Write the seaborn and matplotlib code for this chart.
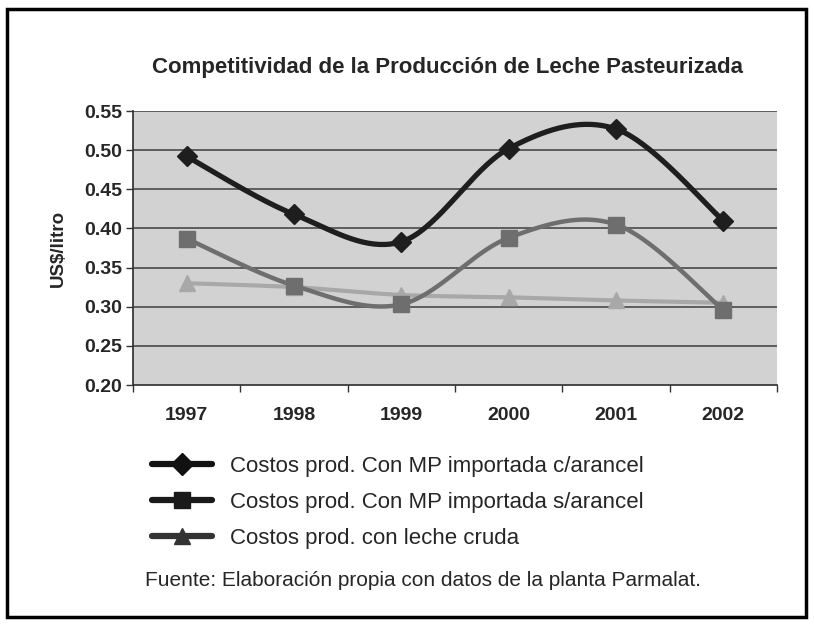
import matplotlib
matplotlib.use("Agg")
import matplotlib.pyplot as plt
from matplotlib.lines import Line2D
from matplotlib.patches import Rectangle
import seaborn as sns
import pandas as pd
import numpy as np

# Data
years = ["1997", "1998", "1999", "2000", "2001", "2002"]
con_arancel = [0.492, 0.418, 0.383, 0.502, 0.527, 0.410]
sin_arancel = [0.387, 0.327, 0.303, 0.388, 0.405, 0.296]
leche_cruda = [0.330, 0.325, 0.315, 0.312, 0.308, 0.305]
labels = [
    "Costos prod. Con MP importada c/arancel",
    "Costos prod. Con MP importada s/arancel",
    "Costos prod. con leche cruda",
]
yticks = [0.20, 0.25, 0.30, 0.35, 0.40, 0.45, 0.50, 0.55]

sns.set_theme(style="white")
plt.rcParams['font.family'] = ['Liberation Sans', 'DejaVu Sans']


def smooth(y, n=40):
    # Excel-style smoothed line (Catmull-Rom between the points)
    x = np.arange(len(y), dtype=float)
    y = np.asarray(y, dtype=float)
    px = np.concatenate([[x[0]], x, [x[-1]]])
    py = np.concatenate([[y[0]], y, [y[-1]]])
    xs, ys = [], []
    t = np.linspace(0, 1, n)
    for i in range(1, len(px) - 2):
        for arr, out in ((px, xs), (py, ys)):
            p0, p1, p2, p3 = arr[i - 1], arr[i], arr[i + 1], arr[i + 2]
            out.extend(0.5 * ((2 * p1) + (-p0 + p2) * t
                              + (2 * p0 - 5 * p1 + 4 * p2 - p3) * t ** 2
                              + (-p0 + 3 * p1 - 3 * p2 + p3) * t ** 3))
    return np.array(xs), np.array(ys)


series = [con_arancel, sin_arancel, leche_cruda]
colors = ["#1e1e1e", "#6e6e6e", "#a8a8a8"]
markers = ["D", "s", "^"]
msizes = [10, 11, 11]
lwidths = [3.8, 3.2, 3.0]
legend_colors = ["#111111", "#1a1a1a", "#333333"]

curves = []
for lab, vals in zip(labels, series):
    cx, cy = smooth(vals)
    curves.append(pd.DataFrame({"x": cx, "y": cy, "serie": lab}))
df_curve = pd.concat(curves, ignore_index=True)
df_pts = pd.DataFrame({
    "x": np.tile(np.arange(len(years)), len(series)),
    "y": np.concatenate(series),
    "serie": np.repeat(labels, len(years)),
})

fig = plt.figure(figsize=(8.14, 6.24), dpi=100)
ax = fig.add_axes([133 / 814, 1 - 385 / 624, (777 - 133) / 814, (385 - 111) / 624])
ax.set_facecolor("#d2d2d2")

for ypos in yticks[1:]:
    ax.axhline(ypos, color="#4a4a4a", lw=1.2, zorder=1)

for i, lab in enumerate(labels):
    sub = df_curve[df_curve["serie"] == lab]
    sns.lineplot(data=sub, x="x", y="y", color=colors[i], lw=lwidths[i],
                 sort=False, estimator=None, ax=ax, zorder=3 - i * 0.1)
    pts = df_pts[df_pts["serie"] == lab]
    ax.plot(pts["x"], pts["y"], ls="none", marker=markers[i], ms=msizes[i],
            color=colors[i], mec=colors[i], zorder=4 - i * 0.1)

ax.set_xlim(-0.5, len(years) - 0.5)
ax.set_ylim(0.20, 0.55)
ax.set_yticks(yticks)
ax.set_yticklabels([f"{v:.2f}" for v in yticks], fontsize=14, fontweight="bold")
ax.set_xticks(range(len(years)))
ax.set_xticklabels(years, fontsize=14, fontweight="bold")
ax.set_xticks(np.arange(-0.5, len(years), 1.0), minor=True)
ax.tick_params(axis="x", which="major", length=0, pad=16)
ax.tick_params(axis="x", which="minor", length=5, width=1, color="#333333", direction="out", bottom=True)
ax.tick_params(axis="y", length=5, width=1, color="#333333", direction="out", left=True, pad=3)
ax.set_xlabel("")
ax.set_ylabel("US$/litro", fontsize=13.5, fontweight="bold", labelpad=12)
for side in ["top", "right"]:
    ax.spines[side].set_visible(False)
ax.spines["left"].set_color("#333333")
ax.spines["bottom"].set_color("#333333")

fig.text(448 / 814, 1 - 68 / 624, "Competitividad de la Producción de Leche Pasteurizada",
         ha="center", va="center", fontsize=16, fontweight="bold")

handles = [Line2D([], [], color=legend_colors[i], lw=4.5, marker=markers[i], ms=11,
                  mec=legend_colors[i]) for i in range(len(labels))]
fig.legend(handles, labels, loc="upper left", bbox_to_anchor=(152 / 814, 1 - 456 / 624),
           frameon=False, fontsize=16, handlelength=2.7, handletextpad=0.8,
           labelspacing=0.68, borderaxespad=0, borderpad=0)

fig.text(423 / 814, 1 - 581 / 624, "Fuente: Elaboración propia con datos de la planta Parmalat.",
         ha="center", va="center", fontsize=15)

fig.patches.append(Rectangle((7 / 814, 7 / 624), 799 / 814, 608 / 624, transform=fig.transFigure,
                             fill=False, ec="black", lw=2.5))

fig.savefig("out.png", dpi=100, facecolor="white")
